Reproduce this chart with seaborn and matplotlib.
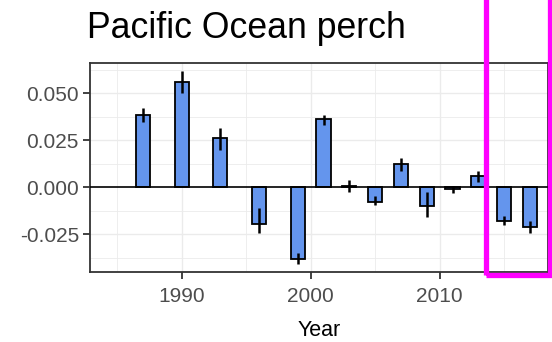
import numpy as np
import pandas as pd
import seaborn as sns
import matplotlib.pyplot as plt
from matplotlib.patches import Rectangle

# index values
years = [1987, 1990, 1993, 1996, 1999, 2001, 2003, 2005, 2007, 2009, 2011, 2013, 2015, 2017]
index = [0.0382, 0.0560, 0.0259, -0.0198, -0.0385, 0.0360, 0.0008, -0.0078, 0.0120,
         -0.0100, -0.0013, 0.0058, -0.0178, -0.0214]
err_lo = [0.0344, 0.0500, 0.0196, -0.0243, -0.0412, 0.0328, -0.0024, -0.0095, 0.0084,
          -0.0157, -0.0032, 0.0025, -0.0202, -0.0243]
err_hi = [0.0420, 0.0619, 0.0314, -0.0112, -0.0353, 0.0383, 0.0039, -0.0050, 0.0152,
          -0.0024, 0.0007, 0.0087, -0.0152, -0.0180]

df = pd.DataFrame({"Year": years, "index": index, "lo": err_lo, "hi": err_hi})

sns.set_style("white")
plt.rcParams["font.family"] = ["Liberation Sans", "DejaVu Sans"]

fig = plt.figure(figsize=(5.52, 3.42), dpi=100)
ax = fig.add_axes([90 / 552, 70 / 342, 458 / 552, 209 / 342])

# grid (major + minor, like theme_bw)
for x in [1985, 1990, 1995, 2000, 2005, 2010, 2015]:
    ax.axvline(x, color="#EBEBEB", lw=1.0 if x % 10 == 0 else 0.6, zorder=0)
for y in [-0.025, 0.025, 0.05]:
    ax.axhline(y, color="#EBEBEB", lw=1.0, zorder=0)
for y in [-0.0375, -0.0125, 0.0125, 0.0375, 0.0625]:
    ax.axhline(y, color="#EBEBEB", lw=0.6, zorder=0)

sns.barplot(data=df, x="Year", y="index", native_scale=True, width=0.55,
            color="#6495ED", saturation=1, edgecolor="black", linewidth=1.3,
            ax=ax, zorder=2)
ax.axhline(0, color="black", lw=1.2, zorder=3)
ax.vlines(df["Year"], df["lo"], df["hi"], color="black", lw=1.8, zorder=4)

ax.set_xlim(1982.9, 2018.4)
ax.set_ylim(-0.0452, 0.066)
ax.set_xticks([1990, 2000, 2010])
ax.set_yticks([-0.025, 0.0, 0.025, 0.05])
ax.set_yticklabels(["-0.025", "0.000", "0.025", "0.050"])
ax.tick_params(axis="both", labelsize=15, labelcolor="#4D4D4D", color="#333333",
               length=5, width=1.3, direction="out", bottom=True, left=True)
ax.tick_params(axis="x", pad=6)
ax.tick_params(axis="y", pad=3)
ax.set_xlabel("Year", fontsize=15.5, color="black", labelpad=10)
ax.set_ylabel("")
for s in ax.spines.values():
    s.set_color("#333333")
    s.set_linewidth(1.3)

fig.text(87 / 552, 1 - 38 / 342, "Pacific Ocean perch", fontsize=25.7, color="black",
         ha="left", va="baseline")

# magenta highlight box
fig.patches.append(Rectangle((486 / 552, 1 - 275 / 342), 64 / 552, 290 / 342,
                             transform=fig.transFigure, fill=False,
                             edgecolor="#FF00FF", lw=3.8, zorder=10, clip_on=False))

fig.savefig("out.png", dpi=100)
